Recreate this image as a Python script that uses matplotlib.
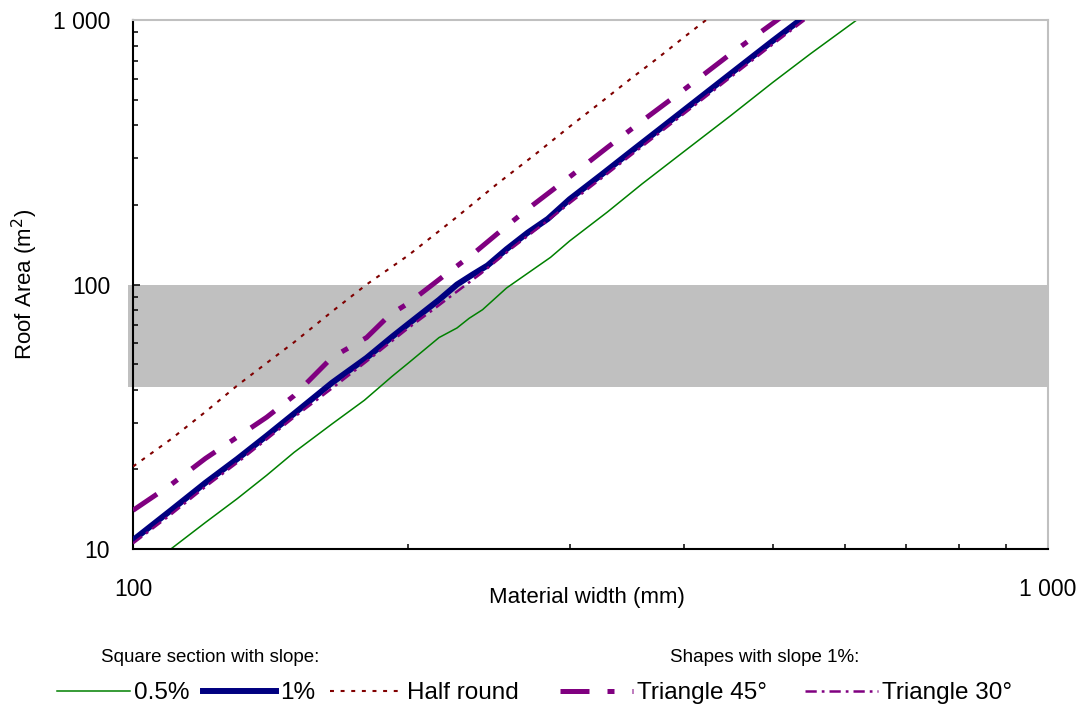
import matplotlib.pyplot as plt
from matplotlib.ticker import FixedLocator, FuncFormatter, NullFormatter
import numpy as np

plt.rcParams['font.family'] = ['Liberation Sans', 'DejaVu Sans']

# gutter width (mm) vs roof area (m2) it can drain
x_05 = [105, 110, 120, 130, 140, 150, 165, 179, 192, 200, 216, 226, 233, 241, 256, 286,
        300, 330, 360, 400, 450, 500, 550, 618, 640]
y_05 = [8.75, 10.0, 12.6, 15.5, 19.0, 23.2, 29.7, 36.5, 45, 50.5, 63.0, 68.5, 74.5, 80.3,
        97.0, 126.7, 146, 188, 240, 318, 435, 580, 745, 1000, 1100]

x_1 = [100, 110, 120, 130, 140, 150, 165, 180, 192, 200, 216, 226, 235, 244, 256, 270,
       284, 300, 325, 350, 375, 400, 450, 500, 536, 550]
y_1 = [10.8, 14.0, 17.8, 21.9, 26.8, 32.5, 42.5, 52.8, 63.5, 71.0, 87.5, 100, 109, 118,
       136, 157, 177, 210, 260, 318, 383, 456, 627, 833, 1000, 1078]

x_half = [100, 110, 120, 130, 140, 150, 165, 180, 200, 225, 250, 275, 300, 325, 350,
          375, 400, 423, 440]
y_half = [20.5, 26.0, 33, 41.5, 50.5, 60.5, 79, 100, 129, 178, 240, 310, 395, 490, 600,
          720, 860, 1000, 1110]

x_t45 = [100, 110, 120, 130, 140, 150, 165, 180, 191, 200, 218, 235, 252, 270, 300, 330,
         360, 400, 450, 506, 520]
y_t45 = [14.0, 17.5, 22, 26.5, 31.5, 38, 53, 63, 77, 85, 107, 130, 159, 193, 255, 330,
         415, 545, 745, 1000, 1080]

x_t30 = [100, 110, 120, 130, 140, 150, 165, 180, 190, 200, 215, 225, 240, 260, 280, 300,
         325, 350, 375, 400, 450, 500, 542, 560]
y_t30 = [10.5, 13.5, 17.2, 21.2, 26.0, 31.5, 40.5, 51.2, 59.5, 68.5, 82.5, 93, 110, 138,
         168, 203, 252, 308, 371, 442, 608, 808, 1000, 1090]

labels = ['0.5%', '1%', 'Half round', 'Triangle 45°', 'Triangle 30°']

# recommended roof area band
band_low, band_high = 41, 100

W, H = 1086, 710
fig = plt.figure(figsize=(W / 100, H / 100), dpi=100)
ax = fig.add_axes([133 / W, 1 - 549 / H, 915 / W, 529 / H])

ax.fill_between([98.7, 1000], band_low, band_high, color='#c0c0c0', lw=0,
                zorder=0, clip_on=False)

l05, = ax.plot(x_05, y_05, color='#008000', lw=1.1, zorder=2)
l1, = ax.plot(x_1, y_1, color='#000080', lw=4.3, zorder=3)
lhalf, = ax.plot(x_half, y_half, color='#800000', lw=1.5, ls=(0, (1.9, 3.2)), zorder=4)
lt45, = ax.plot(x_t45, y_t45, color='#800080', lw=3.6, ls=(0, (5.8, 3.6, 1.4, 3.6)), zorder=4)
lt30, = ax.plot(x_t30, y_t30, color='#800080', lw=1.8, ls=(0, (4.5, 2.0, 1.1, 2.0)), zorder=5)

ax.set_xscale('log')
ax.set_yscale('log')
ax.set_xlim(100, 1000)
ax.set_ylim(10, 1000)

def spaced(v, pos):
    return '{:,.0f}'.format(v).replace(',', ' ')

ax.xaxis.set_major_locator(FixedLocator([100, 1000]))
ax.yaxis.set_major_locator(FixedLocator([10, 100, 1000]))
ax.xaxis.set_minor_locator(FixedLocator(list(range(200, 1000, 100))))
ax.yaxis.set_minor_locator(FixedLocator(list(range(20, 100, 10)) + list(range(200, 1000, 100))))
ax.xaxis.set_major_formatter(FuncFormatter(spaced))
ax.yaxis.set_major_formatter(FuncFormatter(spaced))
ax.xaxis.set_minor_formatter(NullFormatter())
ax.yaxis.set_minor_formatter(NullFormatter())

ax.tick_params(which='both', direction='in', width=1.1, colors='black', labelsize=16.5)
ax.tick_params(which='major', length=5)
ax.tick_params(which='minor', length=3.5)
ax.tick_params(axis='x', pad=21)
ax.tick_params(axis='y', pad=16.5)

for s in ['left', 'bottom']:
    ax.spines[s].set_linewidth(1.5)
    ax.spines[s].set_color('black')
for s in ['top', 'right']:
    ax.spines[s].set_linewidth(1.5)
    ax.spines[s].set_color('#c0c0c0')

ax.set_xlabel('Material width (mm)', fontsize=16)
ax.set_ylabel('Roof Area (m$^2$)', fontsize=16)
ax.xaxis.set_label_coords((587 - 133) / 915, (549 - 597) / 529)
ax.xaxis.label.set_va('center')
ax.yaxis.set_label_coords((25 - 133) / 915, (549 - 284) / 529)
ax.yaxis.label.set_va('center')

fig.text(210 / W, 1 - 658 / H, 'Square section with slope:', fontsize=13.5,
         ha='center', va='center')
fig.text(765 / W, 1 - 658 / H, 'Shapes with slope 1%:', fontsize=13.5,
         ha='center', va='center')

# one legend per entry so each sits where it belongs on the bottom row
fs = 17.5
handle_px = 73
starts = [57, 203, 330, 560, 805]
for h, lab, x0 in zip([l05, l1, lhalf, lt45, lt30], labels, starts):
    fig.legend([h], [lab], loc='center left', bbox_to_anchor=(x0 / W, 1 - 693 / H),
               frameon=False, fontsize=fs, handlelength=handle_px / (fs * 100 / 72),
               handletextpad=0.15, borderpad=0, borderaxespad=0)

fig.savefig('out.png', dpi=100)
